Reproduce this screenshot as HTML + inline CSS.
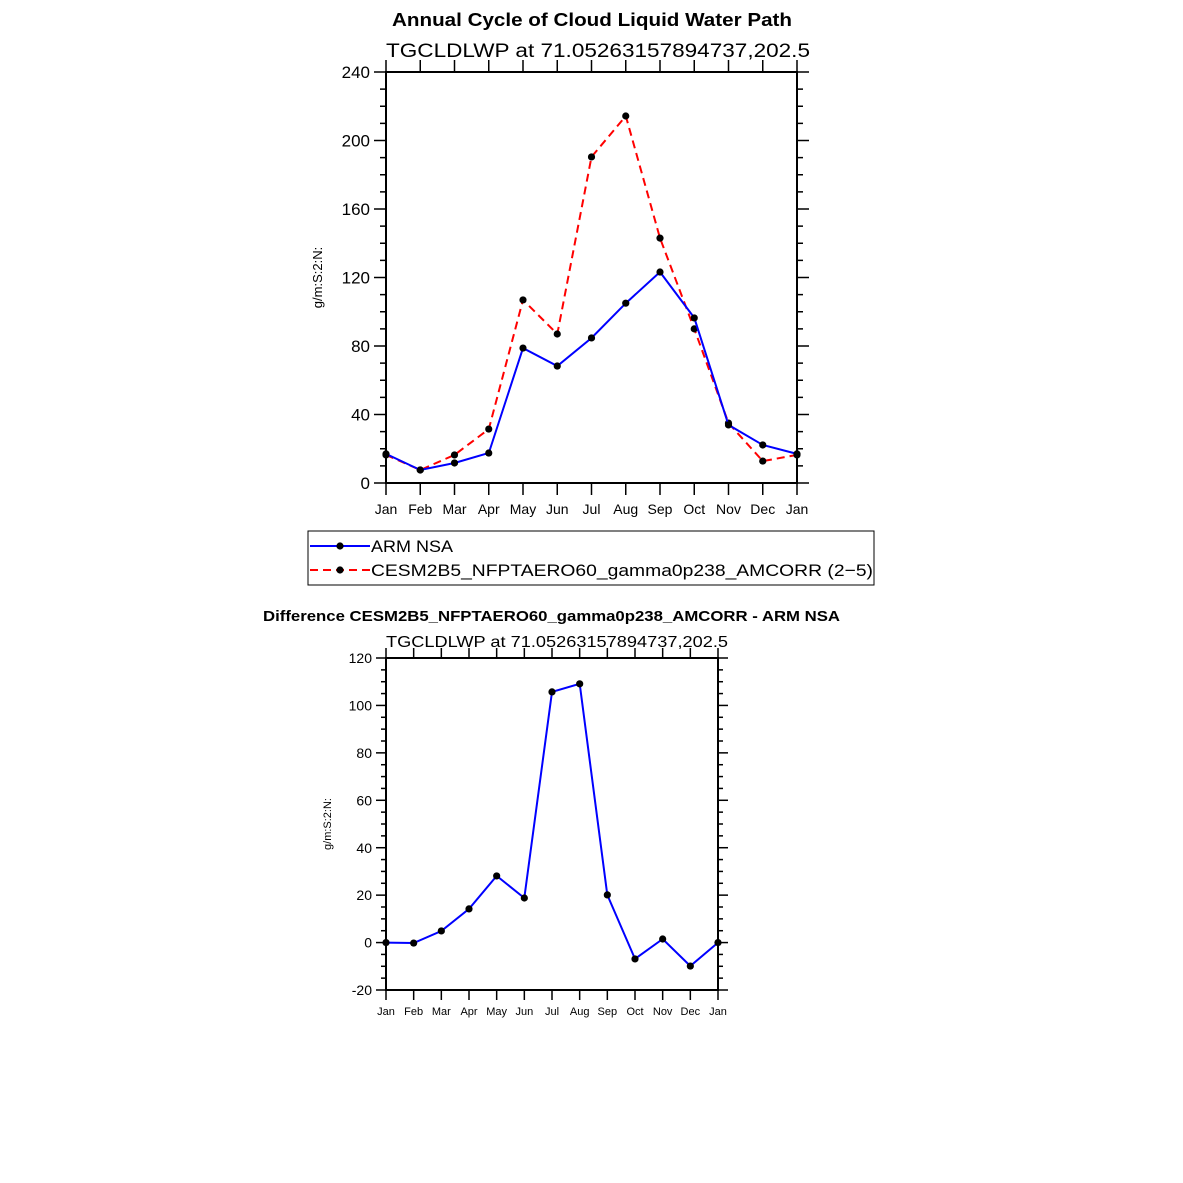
<!DOCTYPE html>
<html><head><meta charset="utf-8"><style>
html,body{margin:0;padding:0;background:#fff;}
svg{display:block;font-family:"Liberation Sans",sans-serif;}
</style></head><body>
<svg id="s" width="1183" height="1183" viewBox="0 0 1183 1183" xmlns="http://www.w3.org/2000/svg"></svg>
<script>
const months = ["Jan","Feb","Mar","Apr","May","Jun","Jul","Aug","Sep","Oct","Nov","Dec","Jan"];
const armValues = [17, 7.6, 11.7, 17.5, 78.8, 68.3, 84.7, 105, 123.2, 96.4, 33.9, 22.2, 17];
const cesmValues = [16.4, 7.6, 16.4, 31.5, 106.9, 87, 190.4, 214.3, 143, 90, 35, 12.8, 16.4];
const diffValues = [0, -0.2, 4.9, 14.2, 28.1, 18.8, 105.7, 109.1, 20.1, -6.9, 1.5, -9.9, 0];
const topTicks = [0, 40, 80, 120, 160, 200, 240];
const botTicks = [-20, 0, 20, 40, 60, 80, 100, 120];

const NS = "http://www.w3.org/2000/svg";
const svg = document.getElementById("s");
function el(tag, attrs, parent, text){
  const e = document.createElementNS(NS, tag);
  for (const k in attrs) e.setAttribute(k, attrs[k]);
  if (text !== undefined) e.textContent = text;
  (parent || svg).appendChild(e);
  return e;
}

function panel(cfg){
  const g = el("g", {});
  
  
  const {x0,x1,y0,y1,ymin,ymax,minorStep,tickLen,minorLen,fs,xfs} = cfg;
  const xs = i => x0 + (x1 - x0) * i / 12;
  const ys = v => y1 - (v - ymin) / (ymax - ymin) * (y1 - y0);
  const box = el("rect", {x:x0, y:y0, width:x1-x0, height:y1-y0, fill:"none", stroke:"#000", "stroke-width":2}, g);
  
  
  for (let v = ymin; v <= ymax + 1e-9; v += minorStep){
    const major = cfg.yTicks.some(t => Math.abs(t - v) < 1e-9);
    const L = major ? tickLen : minorLen;
    el("line", {x1:x0-L, x2:x0, y1:ys(v), y2:ys(v), stroke:"#000", "stroke-width":1.5}, g);
    el("line", {x1:x1, x2:x1+L, y1:ys(v), y2:ys(v), stroke:"#000", "stroke-width":1.5}, g);
  }
  cfg.yTicks.forEach(t => {
    const tx = el("text", {x:x0-tickLen-4, y:ys(t)+fs*0.36, "text-anchor":"end", "font-size":fs}, g, String(t));
    
    
  });
  months.forEach((m, i) => {
    el("line", {x1:xs(i), x2:xs(i), y1:y1, y2:y1+tickLen, stroke:"#000", "stroke-width":1.5}, g);
    el("line", {x1:xs(i), x2:xs(i), y1:y0-tickLen, y2:y0, stroke:"#000", "stroke-width":1.5}, g);
    const tx = el("text", {x:xs(i), y:y1+tickLen+cfg.xLabOff, "text-anchor":"middle", "font-size":xfs}, g, m);
    
    
  });
  const yt = el("text", {transform:`translate(${cfg.ytX},${(y0+y1)/2}) rotate(-90)`, "text-anchor":"middle", "font-size":cfg.ytFs}, g, "g/m:S:2:N:");
  
  
  cfg.series.forEach(s => {
    const pts = s.vals.map((v,i) => xs(i).toFixed(1)+","+ys(v).toFixed(1)).join(" ");
    const pl = el("polyline", {points:pts, fill:"none", stroke:s.color, "stroke-width":2, "stroke-dasharray":s.dash||"none"}, g);
    
    
    s.vals.forEach((v,i) => {
      const c = el("circle", {cx:xs(i), cy:ys(v), r:3.6, fill:"#000"}, g);
      
      
    });
  });
}

let t = el("text", {x:392, y:26, "font-size":18, "font-weight":"bold", textLength:400, lengthAdjust:"spacingAndGlyphs"}, svg, "Annual Cycle of Cloud Liquid Water Path");
 
t = el("text", {x:386, y:57, "font-size":19, textLength:424, lengthAdjust:"spacingAndGlyphs"}, svg, "TGCLDLWP at 71.05263157894737,202.5");
 

panel({name:"annual-cycle-panel", x0:386, x1:797, y0:72, y1:483, ymin:0, ymax:240, minorStep:10, tickLen:12, minorLen:6, fs:17, xfs:14, xLabOff:19, yTicks:topTicks, ytX:322, ytFs:13,
  series:[{name:"cesm", vals:cesmValues, color:"#ff0000", dash:"8,5"},{name:"arm", vals:armValues, color:"#0000ff"}]});

const lg = el("g", {});
 
el("rect", {x:308, y:531, width:566, height:54, fill:"#fff", stroke:"#000", "stroke-width":1}, lg);
el("line", {x1:310, x2:370, y1:546, y2:546, stroke:"#0000ff", "stroke-width":2}, lg);
el("circle", {cx:340, cy:546, r:3.6, fill:"#000"}, lg);
t = el("text", {x:371, y:552, "font-size":17, textLength:82, lengthAdjust:"spacingAndGlyphs"}, lg, "ARM NSA");
 
el("line", {x1:310, x2:370, y1:570, y2:570, stroke:"#ff0000", "stroke-width":2, "stroke-dasharray":"8,5"}, lg);
el("circle", {cx:340, cy:570, r:3.6, fill:"#000"}, lg);
t = el("text", {x:371, y:576, "font-size":17, textLength:502, lengthAdjust:"spacingAndGlyphs"}, lg, "CESM2B5_NFPTAERO60_gamma0p238_AMCORR (2\u22125)");
 

t = el("text", {x:263, y:621, "font-size":15, "font-weight":"bold", textLength:577, lengthAdjust:"spacingAndGlyphs"}, svg, "Difference CESM2B5_NFPTAERO60_gamma0p238_AMCORR - ARM NSA");
 
t = el("text", {x:386, y:647, "font-size":16, textLength:342, lengthAdjust:"spacingAndGlyphs"}, svg, "TGCLDLWP at 71.05263157894737,202.5");
 

panel({name:"difference-panel", x0:386, x1:718, y0:658, y1:990, ymin:-20, ymax:120, minorStep:5, tickLen:10, minorLen:5, fs:14, xfs:11, xLabOff:15, yTicks:botTicks, ytX:331, ytFs:11,
  series:[{name:"difference", vals:diffValues, color:"#0000ff"}]});
</script>
</body></html>
